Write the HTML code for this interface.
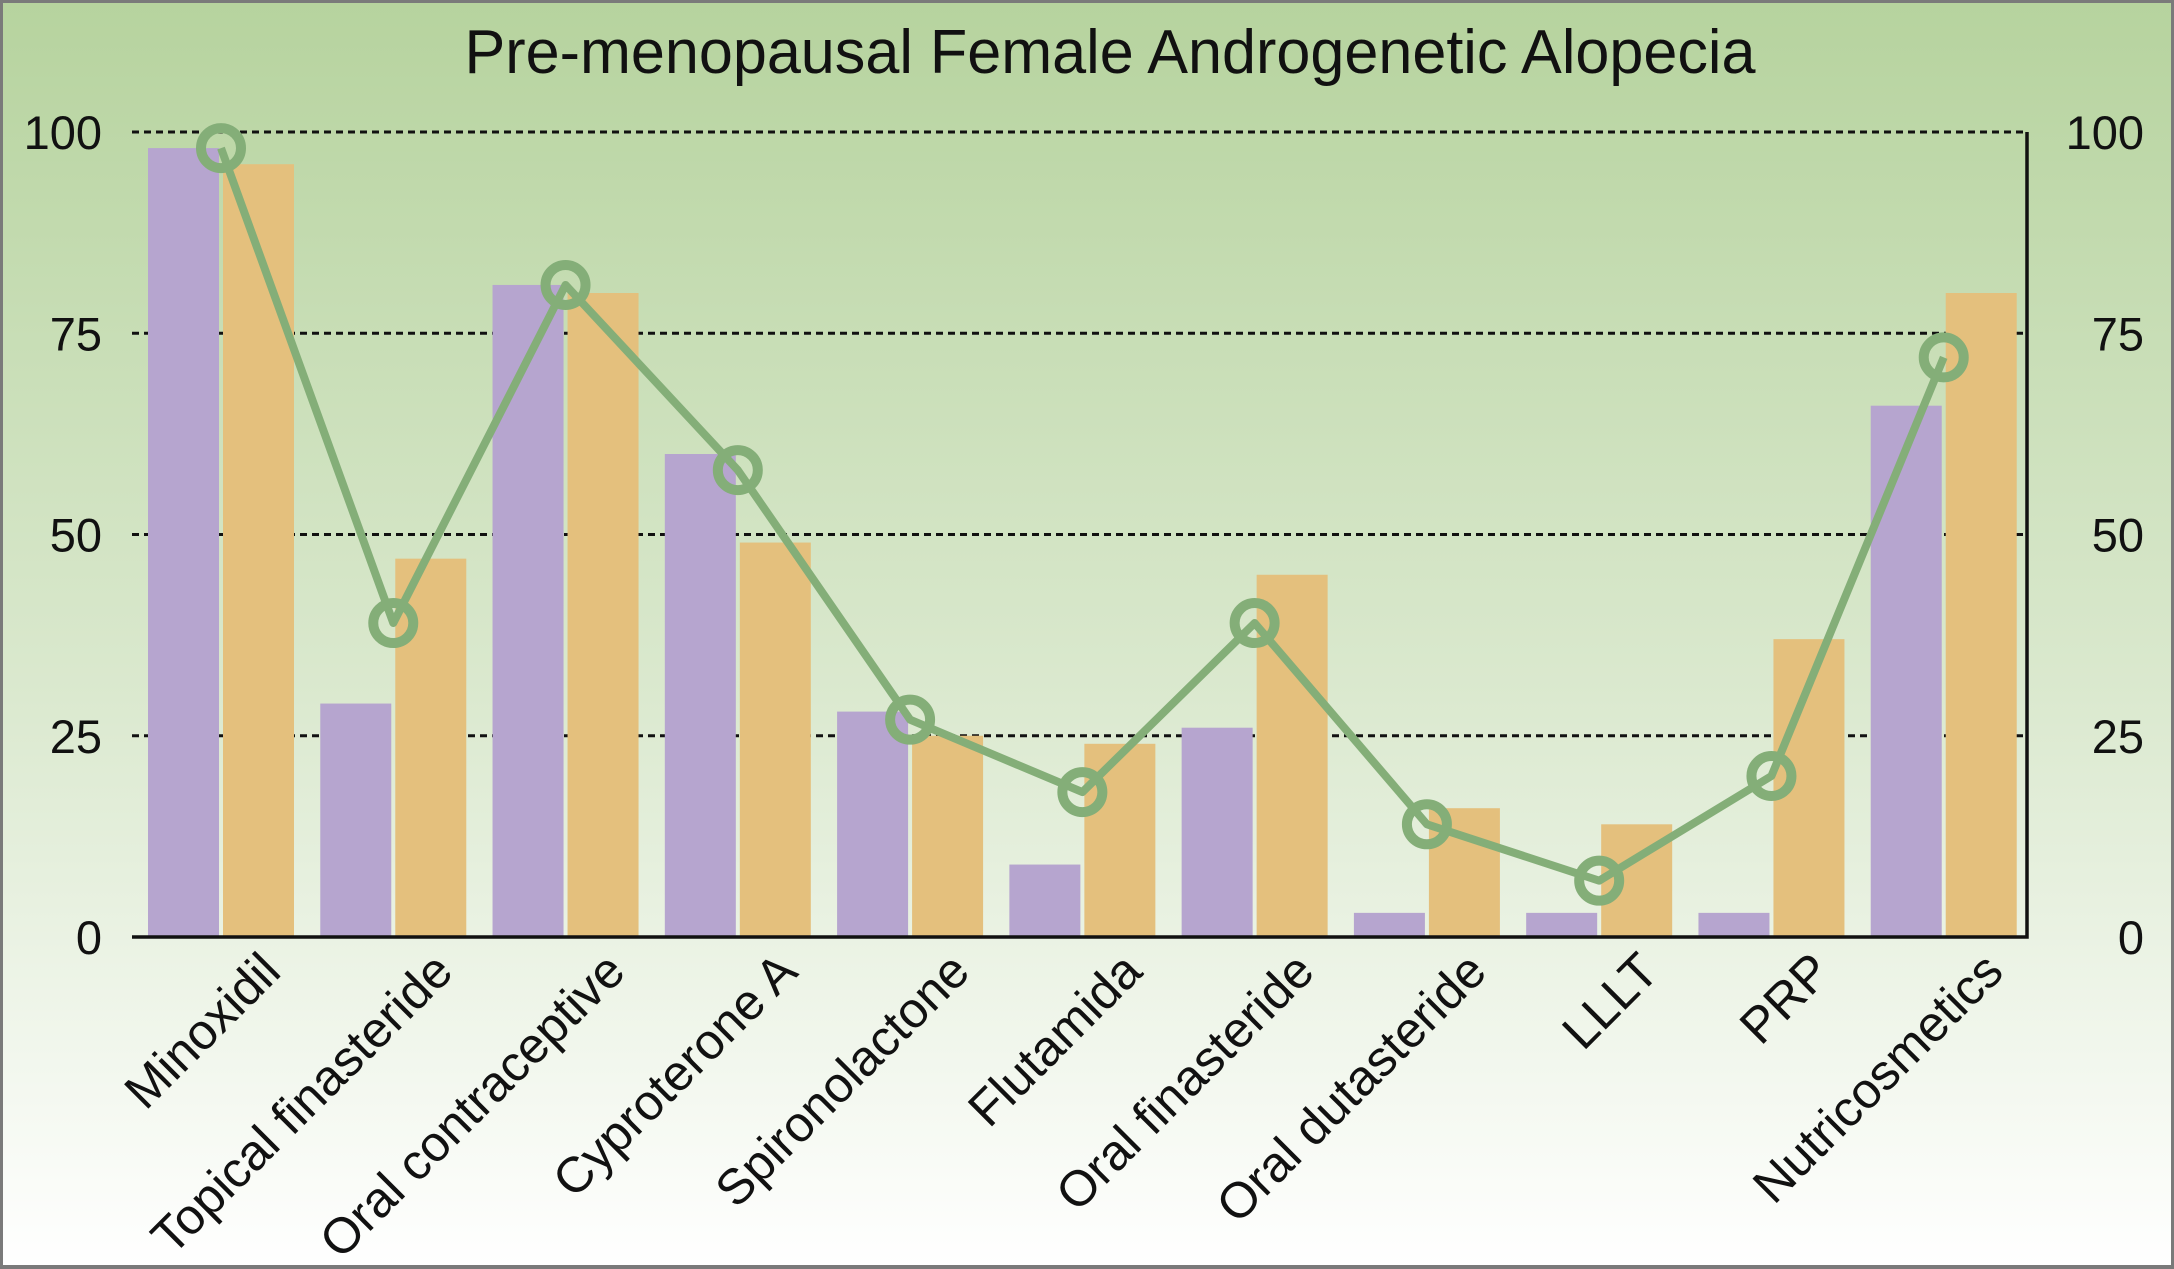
<!DOCTYPE html>
<html><head><meta charset="utf-8"><style>
html,body{margin:0;padding:0;background:#fff}
svg{display:block;font-family:"Liberation Sans",Arial,sans-serif}
</style></head><body>
<svg id="chart" width="2174" height="1269" viewBox="0 0 2174 1269" xmlns="http://www.w3.org/2000/svg">
<defs><linearGradient id="bg" x1="0" y1="0" x2="0" y2="1">
<stop offset="0" stop-color="#b6d39e"/><stop offset="0.55" stop-color="#dbe9cf"/><stop offset="1" stop-color="#ffffff"/></linearGradient></defs>
<rect x="0" y="0" width="2174" height="1269" fill="url(#bg)"/>
<rect x="1" y="1" width="2172" height="1266" fill="none" stroke="#7a7a7a" stroke-width="4"/>
<text x="1110" y="73" text-anchor="middle" font-size="62" fill="#111" textLength="1291" lengthAdjust="spacingAndGlyphs">Pre-menopausal Female Androgenetic Alopecia</text>
<g id="grid"></g><g id="bars"></g><g id="axes"></g><g id="line"></g><g id="labels"></g>
</svg>
<script>
const categories=["Minoxidil","Topical finasteride","Oral contraceptive","Cyproterone A","Spironolactone","Flutamida","Oral finasteride","Oral dutasteride","LLLT","PRP","Nutricosmetics"];
const purpleValues=[98,29,81,60,28,9,26,3,3,3,66];
const orangeValues=[96,47,80,49,25,24,45,16,14,37,80];
const lineValues=[98,39,81,58,27,18,39,14,7,20,72];
const yTicks=[0,25,50,75,100];
const NS="http://www.w3.org/2000/svg";
const L=132,R=2027,T=132,B=937;
const gw=(R-L)/categories.length;
function y(v){return B-(B-T)*v/100;}
function gx(i){return L+i*gw;}
function mk(t,a,p){const e=document.createElementNS(NS,t);for(const k in a)e.setAttribute(k,a[k]);p.appendChild(e);return e;}
const grid=document.getElementById('grid'),bars=document.getElementById('bars'),axes=document.getElementById('axes'),line=document.getElementById('line'),labels=document.getElementById('labels');
yTicks.forEach(v=>{
 if(v>0){const g=mk('line',{x1:L,x2:R,y1:y(v),y2:y(v),stroke:'#111','stroke-width':3,'stroke-dasharray':'7 5'},grid);
 
 }
 const a=mk('text',{x:102,y:y(v)+17,'text-anchor':'end','font-size':47,fill:'#111'},labels);a.textContent=v;
 
 
 const b=mk('text',{x:2144,y:y(v)+17,'text-anchor':'end','font-size':47,fill:'#111'},labels);b.textContent=v;
 
 
});
const bw=71;
categories.forEach((c,i)=>{
 const x0=gx(i)+16;
 const p=mk('rect',{x:x0,y:y(purpleValues[i]),width:bw,height:B-y(purpleValues[i]),fill:'#b6a5cf'},bars);
 
 
 const o=mk('rect',{x:x0+bw+4,y:y(orangeValues[i]),width:bw,height:B-y(orangeValues[i]),fill:'#e4c07d'},bars);
 
 
 const cx=x0+bw+2;
 const ax0=cx+62, ay0=974;
 const t=mk('text',{x:ax0,y:ay0,'text-anchor':'end','font-size':50,fill:'#111',transform:`rotate(-45 ${ax0} ${ay0})`},labels);t.textContent=c;
 
 
});
const ax=mk('path',{d:`M${L} ${B}H${R}V${T}`,fill:'none',stroke:'#111','stroke-width':3.5},axes);


const pts=lineValues.map((v,i)=>[gx(i)+16+bw+2,y(v)]);
const pl=mk('polyline',{points:pts.map(p=>p.join(',')).join(' '),fill:'none',stroke:'#84ae78','stroke-width':8,'stroke-linejoin':'round'},line);


pts.forEach((p,i)=>{
 const c=mk('circle',{cx:p[0],cy:p[1],r:20,fill:'none',stroke:'#84ae78','stroke-width':10},line);
 
 
});
</script>
</body></html>
